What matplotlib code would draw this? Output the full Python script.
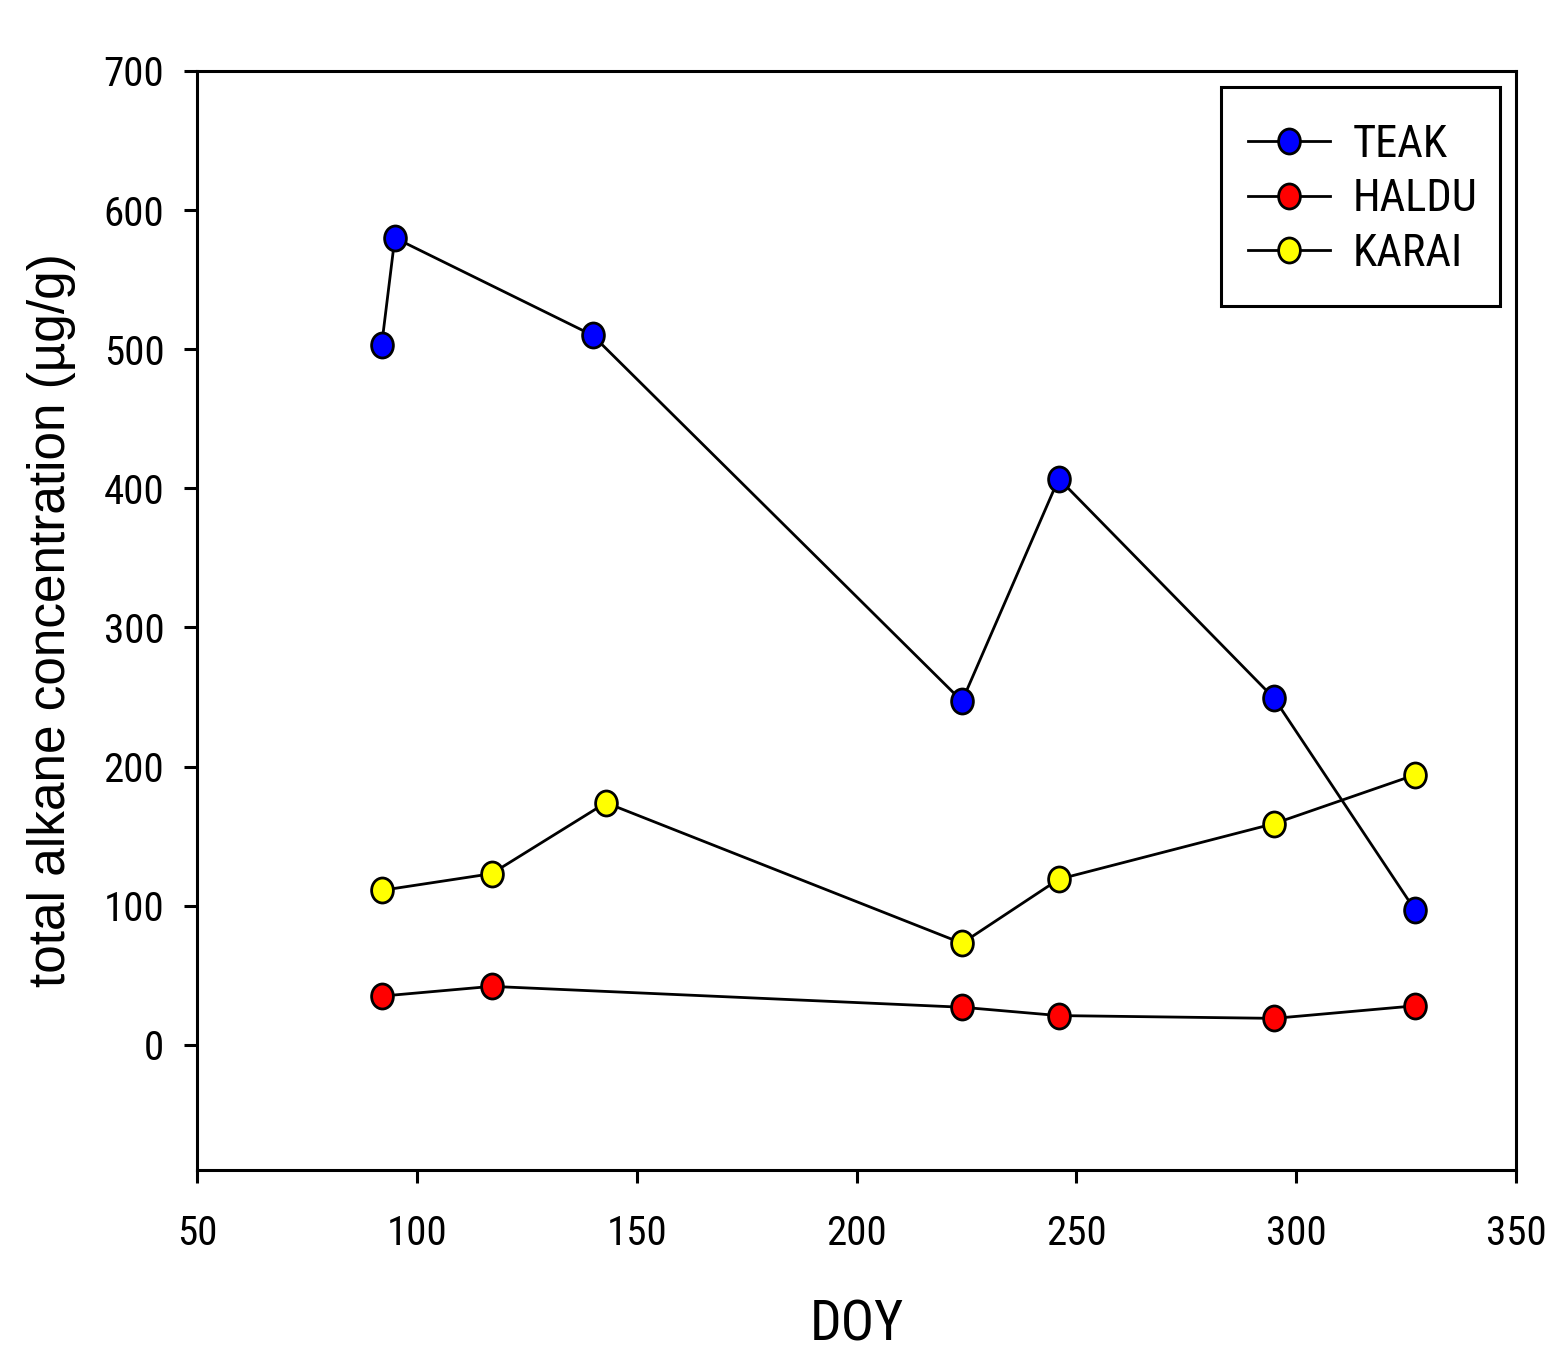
import numpy as np
import matplotlib
matplotlib.use("Agg")
import matplotlib.pyplot as plt
from matplotlib.path import Path
from matplotlib.patches import Rectangle
from matplotlib import font_manager

# ---- data ----
teak_doy = [92, 95, 140, 224, 246, 295, 327]
teak_val = [503, 580, 510, 247, 407, 249, 97]

haldu_doy = [92, 117, 224, 246, 295, 327]
haldu_val = [35, 42, 27, 21, 19, 28]

karai_doy = [92, 117, 143, 224, 246, 295, 327]
karai_val = [111, 123, 174, 73, 119, 159, 194]

series_names = ["TEAK", "HALDU", "KARAI"]
series_colors = ["#0000ff", "#ff0000", "#ffff00"]

xticks = [50, 100, 150, 200, 250, 300, 350]
yticks = [0, 100, 200, 300, 400, 500, 600, 700]

# ---- fonts ----
def pick(fam, fallback):
    try:
        font_manager.findfont(fam, fallback_to_default=False)
        return fam
    except Exception:
        return fallback

narrow = pick("Roboto Condensed", "Liberation Sans")
wide = pick("Liberation Sans", "DejaVu Sans")

W, H = 1545, 1352

# ---- elliptical marker (source image is slightly squeezed horizontally) ----
circ = Path.unit_circle()
ell = Path(circ.vertices * np.array([0.87, 1.0]), circ.codes)

fig = plt.figure(figsize=(W/100, H/100), dpi=100)
ax = fig.add_axes([197/W, 1-1170/H, (1516-197)/W, (1170-71)/H])

for xs, ys, name, col in zip([teak_doy, haldu_doy, karai_doy],
                             [teak_val, haldu_val, karai_val],
                             series_names, series_colors):
    ax.plot(xs, ys, color="black", lw=2, marker=ell, markersize=18,
            markerfacecolor=col, markeredgecolor="black", markeredgewidth=2,
            label=name, zorder=3)

ax.set_xlim(50, 350)
ax.set_ylim(-90, 700)
ax.set_xticks(xticks)
ax.set_yticks(yticks)
ax.set_xticklabels([str(v) for v in xticks], fontfamily=narrow, fontsize=29.5)
ax.set_yticklabels([str(v) for v in yticks], fontfamily=narrow, fontsize=29.5)
ax.tick_params(axis="both", direction="out", length=9.5, width=2.2, top=False, right=False)
ax.tick_params(axis="y", pad=14)
ax.tick_params(axis="x", pad=22)
for s in ax.spines.values():
    s.set_linewidth(2.2)

ax.set_xlabel("DOY", fontfamily=narrow, fontsize=40)
ax.xaxis.label.set_va("center")
ax.xaxis.set_label_coords(0.5, (1170-1325)/1099)

ax.set_ylabel("total alkane concentration (\u00b5g/g)", fontfamily=wide, fontsize=37)
ax.yaxis.label.set_va("center")
ax.yaxis.set_label_coords((52-197)/1319, 0.5)

# legend contents (frame drawn separately to match the reference box)
leg = ax.legend(loc="upper left", bbox_to_anchor=(1248/W, 1-124/H),
                bbox_transform=fig.transFigure, borderaxespad=0,
                prop={"family": narrow, "size": 32}, frameon=False,
                handlelength=1.85, handletextpad=0.5, borderpad=0,
                labelspacing=0.28, numpoints=1)
fig.add_artist(Rectangle((1221/W, 1-306/H), (1500-1221)/W, (306-87)/H,
                         transform=fig.transFigure, fill=False,
                         edgecolor="black", linewidth=2.2))

fig.savefig("out.png", dpi=100)
